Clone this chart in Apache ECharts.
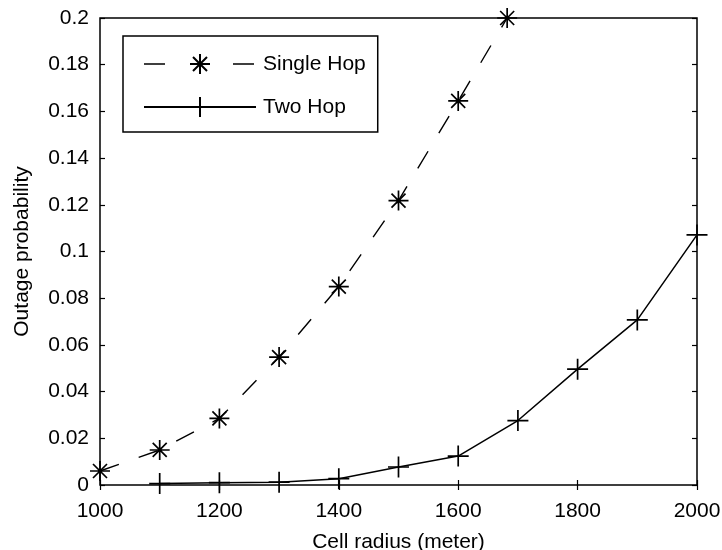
<!DOCTYPE html>
<html>
<head>
<meta charset="utf-8">
<script src="https://cdn.jsdelivr.net/npm/echarts@6/dist/echarts.min.js"></script>
<style>
  html, body { margin: 0; padding: 0; background: #fff; }
  #chart { width: 722px; height: 550px; }
</style>
</head>
<body>
<div id="chart"></div>
<script>
// Outage probability vs. cell radius for single-hop and two-hop links
const singleHopRadius = [1000, 1100, 1200, 1300, 1400, 1500, 1600, 1682];
const singleHopOutage = [0.006, 0.015, 0.0285, 0.0548, 0.085, 0.1218, 0.1645, 0.2];
const twoHopRadius = [1100, 1200, 1300, 1400, 1500, 1600, 1700, 1800, 1900, 2000];
const twoHopOutage = [0.0006, 0.001, 0.0012, 0.0027, 0.0077, 0.0124, 0.0276, 0.0496, 0.0707, 0.1071];
const seriesNames = ['Single Hop', 'Two Hop'];
const xAxisTitle = 'Cell radius (meter)';
const yAxisTitle = 'Outage probability';

const FONT = "'Liberation Sans', Arial, Helvetica, sans-serif";
const FS = 21;

// Line-only marker glyphs (asterisk and plus)
const STAR = 'path://M10,0L10,20M0,10L20,10M3,3L17,17M17,3L3,17';
const PLUS = 'path://M10,0L10,20M0,10L20,10';

function pairs(xs, ys) { return xs.map((x, i) => [x, ys[i]]); }

const chart = echarts.init(document.getElementById('chart'), null, { renderer: 'canvas' });

const tickStyle = { show: true, inside: true, length: 5, lineStyle: { color: '#000', width: 1.2 } };

chart.setOption({
  animation: false,
  backgroundColor: '#fff',
  textStyle: { fontFamily: FONT },
  grid: {
    left: 100, right: 25, top: 18, bottom: 65,
    outerBoundsMode: 'none',
    show: true, borderColor: '#000', borderWidth: 1.5, backgroundColor: 'transparent'
  },
  legend: {
    left: 123, top: 36,
    orient: 'vertical',
    itemWidth: 112, itemHeight: 25, itemGap: 21,
    padding: [17, 12, 14, 20],
    borderColor: '#000', borderWidth: 1.5,
    backgroundColor: '#fff',
    textStyle: { fontFamily: FONT, fontSize: FS, color: '#000', padding: [0, 0, 0, 2] },
    data: [
      { name: seriesNames[0], lineStyle: { type: [21, 68], width: 1.3 } },
      { name: seriesNames[1] }
    ]
  },
  xAxis: [{
    type: 'value', min: 1000, max: 2000, interval: 200,
    name: xAxisTitle, nameLocation: 'middle', nameGap: 47,
    nameTextStyle: { fontFamily: FONT, fontSize: FS, color: '#000' },
    axisLine: { show: false },
    axisTick: tickStyle,
    axisLabel: { fontFamily: FONT, fontSize: FS, color: '#000', margin: 16, formatter: v => String(v) },
    splitLine: { show: false }
  }, {
    type: 'value', position: 'top', min: 1000, max: 2000, interval: 200,
    axisLine: { show: false }, axisTick: tickStyle,
    axisLabel: { show: false }, splitLine: { show: false }
  }],
  yAxis: [{
    type: 'value', min: 0, max: 0.2, interval: 0.02,
    name: yAxisTitle, nameLocation: 'middle', nameGap: 67,
    nameTextStyle: { fontFamily: FONT, fontSize: FS, color: '#000' },
    axisLine: { show: false },
    axisTick: tickStyle,
    axisLabel: { fontFamily: FONT, fontSize: FS, color: '#000', margin: 11 },
    splitLine: { show: false }
  }, {
    type: 'value', position: 'right', min: 0, max: 0.2, interval: 0.02,
    axisLine: { show: false }, axisTick: tickStyle,
    axisLabel: { show: false }, splitLine: { show: false }
  }],
  series: [{
    name: seriesNames[0],
    type: 'line',
    data: pairs(singleHopRadius, singleHopOutage),
    symbol: STAR, symbolSize: 20, showAllSymbol: true, clip: false,
    color: '#000',
    lineStyle: { color: '#000', width: 1.4, type: [20, 21] },
    itemStyle: { color: '#000', borderColor: '#000', borderWidth: 1.7 }
  }, {
    name: seriesNames[1],
    type: 'line',
    data: pairs(twoHopRadius, twoHopOutage),
    symbol: PLUS, symbolSize: 21, showAllSymbol: true, clip: false,
    color: '#000',
    lineStyle: { color: '#000', width: 1.5, type: 'solid' },
    itemStyle: { color: '#000', borderColor: '#000', borderWidth: 1.7 }
  }]
});
</script>
</body>
</html>
